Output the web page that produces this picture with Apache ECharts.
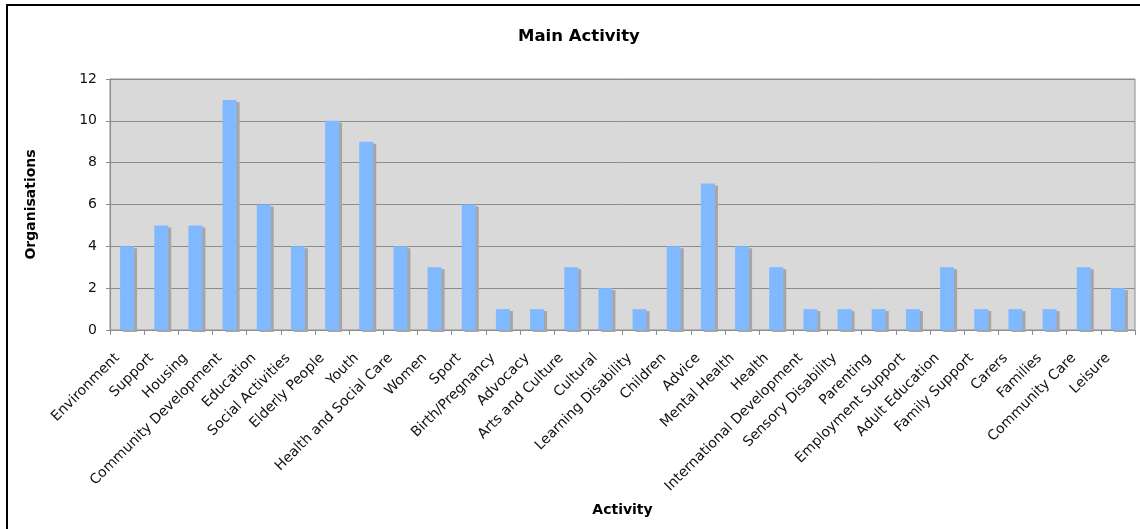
<!DOCTYPE html>
<html>
<head>
<meta charset="utf-8">
<style>
  html, body { margin: 0; padding: 0; background: #fff; }
  #main { width: 1140px; height: 529px; }
</style>
<script src="https://cdn.jsdelivr.net/npm/echarts@6/dist/echarts.min.js"></script>
</head>
<body>
<div id="main"></div>
<script>
// activity categories
var activities = ['Environment', 'Support', 'Housing', 'Community Development', 'Education',
  'Social Activities', 'Elderly People', 'Youth', 'Health and Social Care', 'Women', 'Sport',
  'Birth/Pregnancy', 'Advocacy', 'Arts and Culture', 'Cultural', 'Learning Disability',
  'Children', 'Advice', 'Mental Health', 'Health', 'International Development',
  'Sensory Disability', 'Parenting', 'Employment Support', 'Adult Education',
  'Family Support', 'Carers', 'Families', 'Community Care', 'Leisure'];
// number of organisations
var organisations = [4, 5, 5, 11, 6, 4, 10, 9, 4, 3, 6, 1, 1, 3, 2, 1, 4, 7, 4, 3, 1, 1, 1, 1, 3, 1, 1, 1, 3, 2];
var yTicks = [0, 2, 4, 6, 8, 10, 12];

var chart = echarts.init(document.getElementById('main'));
var font = 'DejaVu Sans, Verdana, sans-serif';

var option = {
  animation: false,
  backgroundColor: '#fff',
  title: {
    text: 'Main Activity',
    left: 513,
    top: 23,
    textStyle: { fontFamily: font, fontSize: 16.5, fontWeight: 'bold', color: '#000' }
  },
  graphic: [{
    // outer frame (top and left edges visible)
    type: 'rect',
    shape: { x: 7, y: 5, width: 1200, height: 600 },
    style: { fill: 'none', stroke: '#000', lineWidth: 2 }
  }],
  grid: {
    left: 110,
    right: 5,
    top: 79,
    bottom: 199,
    show: true,
    backgroundColor: '#d9d9d9',
    borderColor: '#8c8c8c',
    borderWidth: 1
  },
  xAxis: {
    type: 'category',
    data: activities,
    name: 'Activity',
    nameLocation: 'middle',
    nameGap: 173,
    nameTextStyle: { fontFamily: font, fontSize: 14, fontWeight: 'bold', color: '#000' },
    axisLine: { lineStyle: { color: '#8c8c8c', width: 1 } },
    axisTick: { show: true, length: 5, lineStyle: { color: '#8c8c8c' } },
    axisLabel: {
      rotate: 45,
      interval: 0,
      margin: 16,
      padding: [0, 14, 0, 0],
      fontFamily: font,
      fontSize: 14,
      color: '#111'
    }
  },
  yAxis: {
    type: 'value',
    min: 0,
    max: 12,
    interval: 2,
    name: 'Organisations',
    nameLocation: 'middle',
    nameGap: 72,
    nameTextStyle: { fontFamily: font, fontSize: 14, fontWeight: 'bold', color: '#000' },
    axisLine: { show: true, lineStyle: { color: '#8c8c8c' } },
    axisTick: { show: true, length: 4, lineStyle: { color: '#8c8c8c' } },
    axisLabel: {
      margin: 13,
      fontFamily: font,
      fontSize: 14,
      color: '#111',
      formatter: function (v) { return yTicks.indexOf(v) >= 0 ? String(v) : ''; }
    },
    splitLine: { lineStyle: { color: '#8c8c8c', width: 1 } }
  },
  series: [{
    type: 'bar',
    data: organisations,
    barWidth: 14,
    itemStyle: {
      color: '#80b9ff',
      shadowColor: '#a6a6a6',
      shadowBlur: 0,
      shadowOffsetX: 3,
      shadowOffsetY: 2
    }
  }]
};

chart.setOption(option);
</script>
</body>
</html>
